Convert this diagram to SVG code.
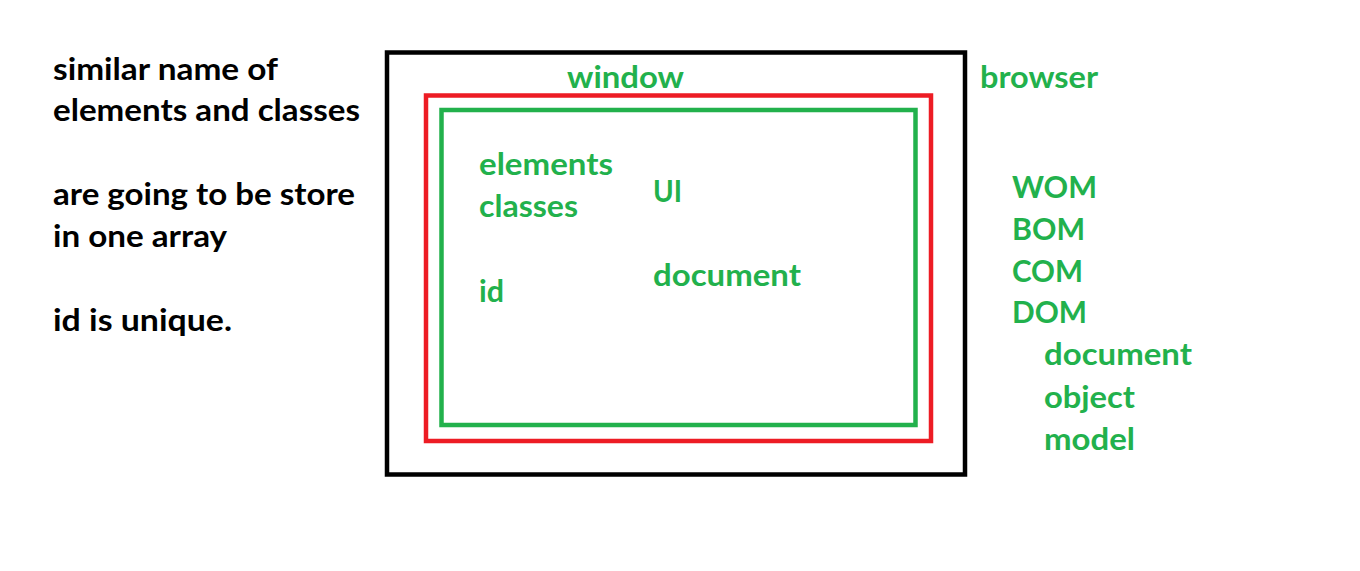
<svg xmlns="http://www.w3.org/2000/svg" width="1360" height="571" viewBox="0 0 1360 571">
<style>
text{font-family:Lato,"Open Sans","Liberation Sans",sans-serif;font-weight:bold;font-size:30px}
.k{fill:#000}
.g{fill:#22B14C}
.box{fill:none;stroke-width:4.5}
</style>
<rect width="1360" height="571" fill="#fff"/>
<g id="notes">
<text class="k" x="53" y="80" textLength="225" lengthAdjust="spacingAndGlyphs">similar name of</text>
<text class="k" x="53" y="121" textLength="307" lengthAdjust="spacingAndGlyphs">elements and classes</text>
<text class="k" x="53" y="205" textLength="302" lengthAdjust="spacingAndGlyphs">are going to be store</text>
<text class="k" x="53" y="247" textLength="174" lengthAdjust="spacingAndGlyphs">in one array</text>
<text class="k" x="53" y="331" textLength="179" lengthAdjust="spacingAndGlyphs">id is unique.</text>
</g>
<g id="browser">
<rect class="box" x="387" y="52.5" width="578" height="422" stroke="#000"/>
<text class="g" x="980" y="88" textLength="118" lengthAdjust="spacingAndGlyphs">browser</text>
</g>
<g id="window">
<rect class="box" x="426" y="95.5" width="505" height="345.5" stroke="#ED1C24"/>
<text class="g" x="567" y="88" textLength="117" lengthAdjust="spacingAndGlyphs">window</text>
</g>
<g id="document">
<rect class="box" x="441.5" y="110" width="474" height="315" stroke="#22B14C"/>
<text class="g" x="479" y="175" textLength="134" lengthAdjust="spacingAndGlyphs">elements</text>
<text class="g" x="479" y="217" textLength="99" lengthAdjust="spacingAndGlyphs">classes</text>
<text class="g" x="479" y="302" textLength="25" lengthAdjust="spacingAndGlyphs">id</text>
<text class="g" x="653" y="202" textLength="29" lengthAdjust="spacingAndGlyphs">UI</text>
<text class="g" x="653" y="286" textLength="148" lengthAdjust="spacingAndGlyphs">document</text>
</g>
<g id="models">
<text class="g" x="1012" y="198" textLength="85" lengthAdjust="spacingAndGlyphs">WOM</text>
<text class="g" x="1012" y="240" textLength="73" lengthAdjust="spacingAndGlyphs">BOM</text>
<text class="g" x="1012" y="282" textLength="71" lengthAdjust="spacingAndGlyphs">COM</text>
<text class="g" x="1012" y="323" textLength="75" lengthAdjust="spacingAndGlyphs">DOM</text>
<text class="g" x="1044" y="365" textLength="148" lengthAdjust="spacingAndGlyphs">document</text>
<text class="g" x="1044" y="408" textLength="91" lengthAdjust="spacingAndGlyphs">object</text>
<text class="g" x="1044" y="450" textLength="91" lengthAdjust="spacingAndGlyphs">model</text>
</g>
<g id="connectors"></g>
</svg>
